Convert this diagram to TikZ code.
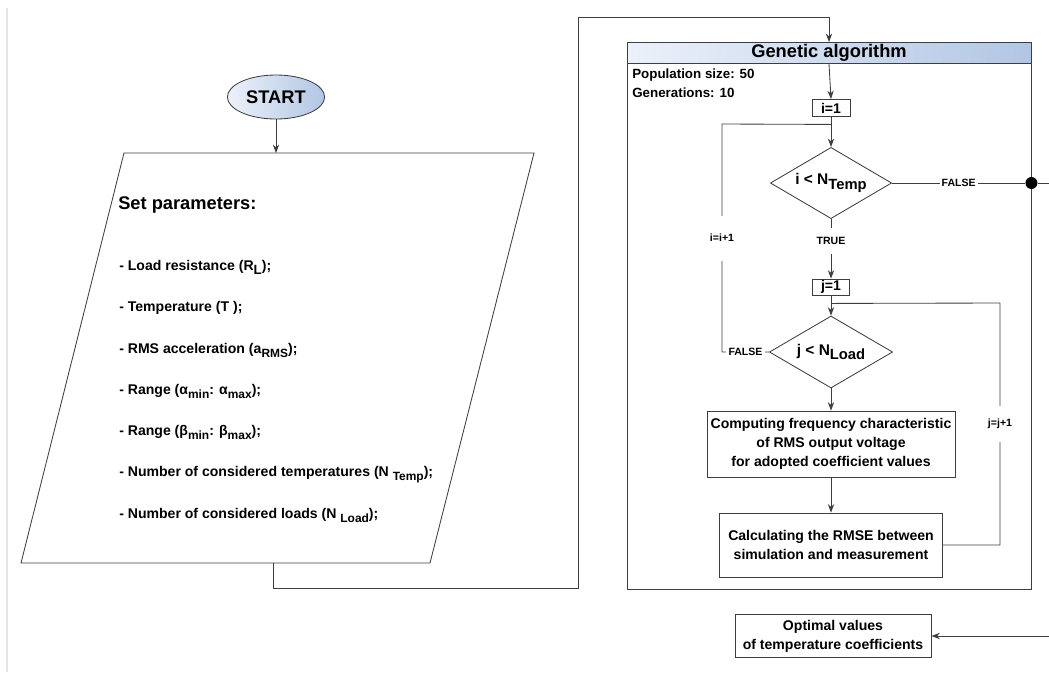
\documentclass[tikz,border=0pt]{standalone}
\usepackage{fontspec}
\setmainfont{Liberation Sans}
\usepackage{xcolor}
\usetikzlibrary{shapes.geometric, arrows.meta, positioning}
\definecolor{Line-A}{RGB}{62, 62, 62}
\definecolor{Head-L}{RGB}{236, 241, 250}
\definecolor{Head-R}{RGB}{178, 198, 228}
\newcommand{\lowsub}[2][8.5]{\raisebox{-3pt}{\fontsize{#1}{#1}\selectfont #2}}

\tikzset{
  base/.style={draw=Line-A, line width=0.6pt},
  arr/.style={base, -{Stealth[length=6pt, width=4.5pt]}},
  box/.style={base, rectangle, align=center, inner sep=0pt, font=\fontsize{10}{13.4}\selectfont\bfseries},
  cond/.style={base, diamond, aspect=1.7, inner sep=0pt, font=\fontsize{11}{12}\selectfont\bfseries},
  lbl/.style={fill=white, inner sep=1.5pt, font=\fontsize{7.5}{8}\selectfont\bfseries},
  item/.style={anchor=base west, inner sep=0pt, font=\fontsize{10}{12}\selectfont\bfseries},
  big/.style={font=\fontsize{13}{13}\selectfont\bfseries},
}

\begin{document}
\begin{tikzpicture}[x=0.025cm, y=-0.025cm]

\useasboundingbox (0,0) rectangle (1049,679);
\draw[gray!20, line width=0.8pt] (7,8) -- (7,672);

\node [base, ellipse, left color=Head-L, right color=Head-R, minimum width=2.43cm, minimum height=1.1cm, inner sep=0pt, big] (start) at (276,97) {START};

\coordinate (ptl) at (124,153);
\coordinate (ptr) at (534,153);
\coordinate (pbr) at (430,563);
\coordinate (pbl) at (21,563);
\coordinate (pout) at (273,563);
\draw [base] (ptl) -- (ptr) -- (pbr) -- (pbl) -- cycle;

\node [anchor=base west, inner sep=0pt, big] (settitle) at (118,209.5) {Set parameters:};
\node [item] (itload) at (119,270) {- Load resistance (R\lowsub[9.5]{L});};
\node [item] (ittemp) at (119,311) {- Temperature (T\ );};
\node [item] (itrms) at (119,353) {- RMS acceleration (a\lowsub{RMS});};
\node [item] (italpha) at (119,394) {- Range (α\lowsub{min}: α\lowsub{max});};
\node [item] (itbeta) at (119,435) {- Range (β\lowsub{min}: β\lowsub{max});};
\node [item] (itntemp) at (119,476) {- Number of considered temperatures (N \lowsub{Temp});};
\node [item] (itnload) at (119,518) {- Number of considered loads (N \lowsub{Load});};

\draw [arr] (start.south) -- (start.south |- ptl);

\node [base, rectangle, minimum width=10.1cm, minimum height=13.675cm, anchor=north, inner sep=0pt] (ga) at (829,42) {};
\node [base, rectangle, minimum width=10.1cm, minimum height=0.525cm, anchor=north, inner sep=0pt, left color=Head-L, right color=Head-R, big] (gahead) at (ga.north) {Genetic algorithm};

\draw [arr] (pout) -- (273,588) -| (578,17) -| (gahead.north);

\node [anchor=base west, inner sep=0pt, font=\fontsize{9.5}{10}\selectfont\bfseries] (popsize) at (632,78.5) {Population size: 50};
\node [anchor=base west, inner sep=0pt, font=\fontsize{9.5}{10}\selectfont\bfseries] (gens) at (632,97.5) {Generations: 10};

\node [box, minimum width=0.95cm, minimum height=0.425cm] (iinit) at (831,108) {i=1};
\node [cond, minimum width=3.03cm, minimum height=1.78cm] (tcond) at (831,183) {i < N\lowsub[10.5]{Temp}};
\node [box, minimum width=0.93cm, minimum height=0.4cm] (jinit) at (831,287) {j=1};
\node [cond, minimum width=3.08cm, minimum height=1.8cm] (lcond) at (831,352) {j < N\lowsub[10.5]{Load}};
\node [box, minimum width=6.2cm, minimum height=1.65cm] (comp) at (831,444) {Computing frequency characteristic\\of RMS output voltage\\for adopted coefficient values};
\node [box, minimum width=5.58cm, minimum height=1.6cm] (rmse) at (831,545) {Calculating the RMSE between\\simulation and measurement};
\node [box, minimum width=4.9cm, minimum height=1.08cm] (opt) at (833,636) {Optimal values\\of temperature coefficients};

\node [circle, fill=black, inner sep=0pt, minimum size=0.3cm] (dot) at (ga.east |- tcond.east) {};

\path (iinit.south) ++(0,7.5) coordinate (ijoin);
\path (jinit.south) ++(0,8) coordinate (jjoin);

\draw [arr] (gahead.south) -- (iinit.north);
\draw [arr] (iinit.south) -- (tcond.north);
\draw [arr] (tcond.south) -- node[lbl, pos=0.37, minimum height=18pt] {TRUE} (jinit.north);
\draw [arr] (jinit.south) -- (lcond.north);
\draw [arr] (lcond.south) -- (comp.north);
\draw [arr] (comp.south) -- (rmse.north);

\draw [base] (lcond.west) -- node[lbl] {FALSE} (722,352) -- node[lbl, minimum height=32pt] {i=i+1} (722,124) -- (ijoin);
\draw [base] (rmse.east) -- (1000,545) -- node[lbl, minimum height=26pt] {j=j+1} (1000,303) -- (jjoin);

\draw [base] (tcond.east) -- node[lbl] {FALSE} (dot);
\draw [arr] (dot) -- (1065,183) -- (1065,636) -- (opt.east);

\end{tikzpicture}
\end{document}
